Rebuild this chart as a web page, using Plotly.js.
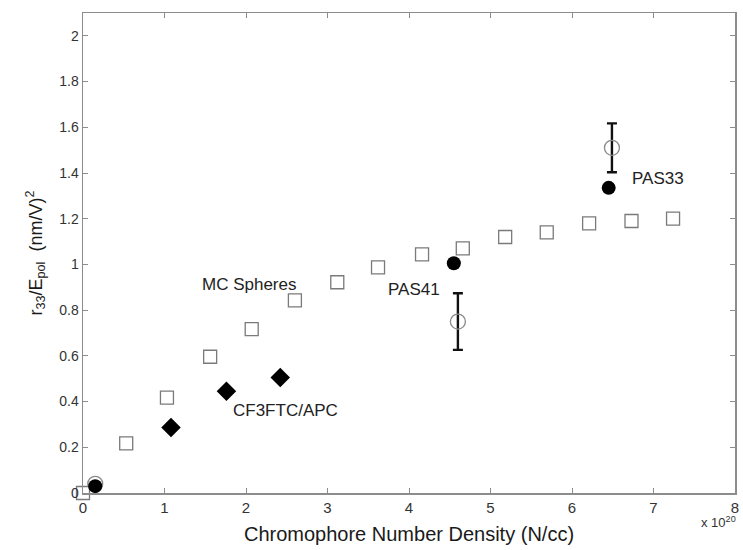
<!DOCTYPE html>
<html>
<head>
<meta charset="utf-8">
<script src="https://cdn.plot.ly/plotly-3.0.1.min.js"></script>
<style>html,body{margin:0;padding:0;background:#fff;}#chart{width:743px;height:550px;}</style>
</head>
<body>
<div id="chart"></div>
<script>
// MC Spheres (open squares)
const mcX = [0.0, 0.53, 1.03, 1.56, 2.07, 2.60, 3.12, 3.62, 4.16, 4.66, 5.18, 5.69, 6.21, 6.73, 7.24];
const mcY = [0.0, 0.217, 0.417, 0.596, 0.717, 0.843, 0.922, 0.987, 1.044, 1.07, 1.12, 1.14, 1.18, 1.19, 1.20];
// CF3FTC/APC (filled diamonds)
const cfX = [1.08, 1.76, 2.42];
const cfY = [0.287, 0.445, 0.505];
// PAS measured (filled circles)
const pasX = [0.15, 4.55, 6.45];
const pasY = [0.03, 1.005, 1.335];
// Open circles with error bars
const openX = [0.15, 4.60, 6.49];
const openY = [0.04, 0.75, 1.51];
const openErr = [0, 0.124, 0.107];
// Labels
const labelText = ["MC Spheres", "CF3FTC/APC", "PAS41", "PAS33"];
const labelX = [2.04, 2.49, 4.06, 7.06];
const labelY = [0.913, 0.36, 0.89, 1.374];
const xTicks = [0, 1, 2, 3, 4, 5, 6, 7, 8];
const yTicks = [0, 0.2, 0.4, 0.6, 0.8, 1, 1.2, 1.4, 1.6, 1.8, 2];

const FONT = "Liberation Sans, Arial, sans-serif";

const traces = [
  {x: mcX, y: mcY, mode: "markers", type: "scatter", cliponaxis: false,
   marker: {symbol: "square-open", size: 13, color: "#7a7a7a", line: {width: 1.3}}},
  {x: openX, y: openY, mode: "markers", type: "scatter", cliponaxis: false,
   error_y: {type: "data", array: openErr, visible: true, color: "#111", thickness: 2.4, width: 5},
   marker: {symbol: "circle-open", size: 15, color: "#8a8a8a", line: {width: 1.3}}},
  {x: cfX, y: cfY, mode: "markers", type: "scatter",
   marker: {symbol: "diamond", size: 15, color: "#000"}},
  {x: pasX, y: pasY, mode: "markers", type: "scatter", cliponaxis: false,
   marker: {symbol: "circle", size: 14, color: "#000"}}
];

const annotations = labelText.map((t, i) => ({
  text: t, x: labelX[i], y: labelY[i], xref: "x", yref: "y",
  showarrow: false, font: {family: FONT, size: 17, color: "#222"}
}));
annotations.push({
  text: "x 10<sup>20</sup>", xref: "paper", yref: "paper", x: 0.975, y: -0.06,
  showarrow: false, xanchor: "center", yanchor: "middle",
  font: {family: FONT, size: 13, color: "#333"}
});

const layout = {
  width: 743, height: 550,
  margin: {l: 83, r: 8, t: 13, b: 57},
  paper_bgcolor: "#fff", plot_bgcolor: "#fff",
  showlegend: false,
  font: {family: FONT, color: "#333"},
  xaxis: {
    range: [0, 8], tickvals: xTicks, ticktext: xTicks.map(String),
    showgrid: false, zeroline: false,
    showline: true, mirror: "ticks", linecolor: "#8c8c8c", linewidth: 1.5,
    ticks: "inside", ticklen: 5, tickcolor: "#8c8c8c",
    tickfont: {family: FONT, size: 15, color: "#333"},
    title: {text: "Chromophore Number Density (N/cc)", font: {family: FONT, size: 20, color: "#1a1a1a"}, standoff: 12}
  },
  yaxis: {
    range: [0, 2.1], tickvals: yTicks, ticktext: yTicks.map(String),
    showgrid: false, zeroline: false,
    showline: true, mirror: "ticks", linecolor: "#8c8c8c", linewidth: 1.5,
    ticks: "inside", ticklen: 5, tickcolor: "#8c8c8c",
    tickfont: {family: FONT, size: 14, color: "#333"},
    title: {text: "r<sub>33</sub>/E<sub>pol</sub>  (nm/V)<sup>2</sup>", font: {family: FONT, size: 18, color: "#1a1a1a"}, standoff: 12}
  },
  annotations: annotations
};

Plotly.newPlot("chart", traces, layout, {displayModeBar: false, staticPlot: true});
</script>
</body>
</html>
